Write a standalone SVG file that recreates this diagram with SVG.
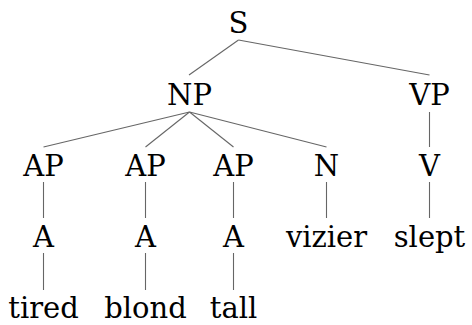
<svg xmlns="http://www.w3.org/2000/svg" width="472" height="325" viewBox="0 0 472 325">
<style>
text{font-family:"DejaVu Serif",serif;font-size:29px;fill:#000;text-anchor:middle}
.e line{stroke:#666;stroke-width:1.1}
</style>
<rect width="472" height="325" fill="#fff"/>
<g class="e" id="edges">
<line x1="238.5" y1="40" x2="189" y2="75"/>
<line x1="238.5" y1="40" x2="429.5" y2="75"/>
<line x1="189.5" y1="112" x2="43.5" y2="147"/>
<line x1="189.5" y1="112" x2="145.5" y2="147"/>
<line x1="189.5" y1="112" x2="233.5" y2="147"/>
<line x1="189.5" y1="112" x2="326.5" y2="147"/>
<line x1="429.5" y1="112" x2="429.5" y2="147"/>
<line x1="43.5" y1="182" x2="43.5" y2="218"/>
<line x1="145.5" y1="182" x2="145.5" y2="218"/>
<line x1="233.5" y1="182" x2="233.5" y2="218"/>
<line x1="326.5" y1="182" x2="326.5" y2="218"/>
<line x1="429.5" y1="182" x2="429.5" y2="218"/>
<line x1="43.5" y1="253" x2="43.5" y2="290"/>
<line x1="145.5" y1="253" x2="145.5" y2="290"/>
<line x1="233.5" y1="253" x2="233.5" y2="290"/>
</g>
<g id="S"><text x="238.5" y="33">S</text></g>
<g id="NP"><text x="189.5" y="105">NP</text></g>
<g id="VP"><text x="429.5" y="105">VP</text></g>
<g id="AP1"><text x="43.5" y="176">AP</text></g>
<g id="AP2"><text x="145.5" y="176">AP</text></g>
<g id="AP3"><text x="233.5" y="176">AP</text></g>
<g id="N"><text x="326.5" y="176">N</text></g>
<g id="V"><text x="429.5" y="176">V</text></g>
<g id="A1"><text x="43.5" y="247">A</text></g>
<g id="A2"><text x="145.5" y="247">A</text></g>
<g id="A3"><text x="233.5" y="247">A</text></g>
<g id="vizier"><text x="326.5" y="247">vizier</text></g>
<g id="slept"><text x="429.5" y="247">slept</text></g>
<g id="tired"><text x="43.5" y="318">tired</text></g>
<g id="blond"><text x="145.5" y="318">blond</text></g>
<g id="tall"><text x="233.5" y="318">tall</text></g>
</svg>
